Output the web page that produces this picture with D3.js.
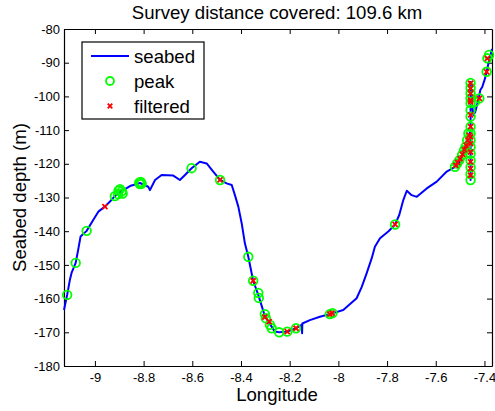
<!DOCTYPE html>
<html>
<head>
<meta charset="utf-8">
<script src="https://cdnjs.cloudflare.com/ajax/libs/d3/7.8.5/d3.min.js"></script>
<style>
  body { margin: 0; background: #fff; }
  text { font-family: Arial, "Liberation Sans", sans-serif; fill: #000; }
</style>
</head>
<body>
<div id="chart"></div>
<script>
var titleText = "Survey distance covered: 109.6 km";

// seabed trace (longitude, depth)
var lineLon = [-9.127, -9.114, -9.103, -9.096, -9.079, -9.069, -9.059, -9.034, -9.007, -8.986,
  -8.959, -8.938, -8.918, -8.897, -8.856, -8.815, -8.781, -8.774, -8.753, -8.726,
  -8.678, -8.651, -8.630, -8.603, -8.569, -8.541, -8.514, -8.486, -8.459, -8.438,
  -8.425, -8.411, -8.397, -8.384, -8.370, -8.350, -8.329, -8.302, -8.284, -8.261,
  -8.243, -8.210, -8.174, -8.151, -8.149, -8.148, -8.117, -8.076, -8.035, -7.980,
  -7.925, -7.904, -7.884, -7.863, -7.850, -7.829, -7.795, -7.767, -7.750, -7.733,
  -7.719, -7.699, -7.678, -7.637, -7.596, -7.555, -7.521, -7.500, -7.487, -7.471,
  -7.457, -7.457, -7.457, -7.455, -7.446, -7.438, -7.425, -7.417, -7.409, -7.397,
  -7.385, -7.369];
var lineDepth = [-163.4, -158.9, -154.5, -152.4, -149.4, -145.6, -141.6, -139.9, -136.7, -134.2,
  -132.7, -131.2, -129.6, -128.4, -126.6, -125.7, -126.8, -127.8, -124.8, -123.3,
  -123.5, -124.8, -123.3, -121.3, -119.4, -119.9, -122.3, -124.8, -125.8, -126.3,
  -129.3, -132.7, -137.7, -143.6, -147.6, -154.7, -158.9, -165.2, -167.2, -169.8,
  -170.0, -169.8, -168.8, -167.8, -170.3, -167.4, -166.4, -165.4, -164.6, -163.4,
  -159.9, -156.5, -152.5, -148.0, -144.6, -142.1, -140.1, -138.0, -135.2, -130.7,
  -128.0, -129.3, -129.8, -127.3, -125.3, -122.3, -120.9, -119.4, -116.9, -113.5,
  -110.0, -124.8, -95.7, -99.6, -105.5, -104.6, -101.1, -98.1, -97.2, -94.5,
  -90.7, -85.9];

// detected peaks
var peakLon = [-9.114, -9.079, -9.034, -8.918, -8.903, -8.897, -8.890, -8.886, -8.905,
  -8.818, -8.812, -8.808, -8.815, -8.603, -8.486, -8.370, -8.350, -8.329, -8.327,
  -8.302, -8.298, -8.281, -8.274, -8.243, -8.210, -8.174, -8.035, -8.024, -7.767,
  -7.521, -7.512, -7.503, -7.492, -7.484, -7.477, -7.471, -7.466,
  -7.457, -7.457, -7.457, -7.457, -7.457, -7.457, -7.457, -7.457, -7.457, -7.457,
  -7.457, -7.457, -7.457, -7.457, -7.457, -7.457,
  -7.439, -7.421, -7.391, -7.388, -7.381];
var peakDepth = [-158.9, -149.4, -139.9, -129.6, -128.0, -127.5, -128.2, -128.8, -129.0,
  -125.6, -125.4, -125.9, -126.0, -121.3, -124.8, -147.6, -154.7, -158.3, -159.8,
  -164.6, -165.8, -167.8, -168.8, -170.0, -169.8, -168.8, -164.6, -164.3, -138.0,
  -120.9, -119.9, -118.9, -117.4, -116.0, -114.9, -113.0, -111.0,
  -96.0, -97.5, -99.1, -100.6, -102.0, -106.0, -109.0, -111.0, -113.0, -115.0,
  -117.0, -119.0, -121.0, -123.0, -124.8, -104.0,
  -101.6, -100.6, -92.7, -88.7, -87.7];

// filtered points
var filtLon = [-8.959, -8.486, -8.350, -8.302, -8.284, -8.210, -8.174, -8.035, -8.026,
  -7.767, -7.518, -7.510, -7.500, -7.490, -7.482, -7.475, -7.468, -7.463,
  -7.457, -7.457, -7.457, -7.457, -7.457, -7.457, -7.457, -7.457, -7.457,
  -7.457, -7.457, -7.457, -7.457, -7.421, -7.391, -7.388];
var filtDepth = [-132.7, -124.8, -154.7, -165.5, -166.8, -169.8, -168.8, -164.6, -164.3,
  -138.0, -120.5, -119.6, -118.5, -117.2, -115.8, -114.5, -113.0, -111.5,
  -96.1, -97.6, -99.1, -101.1, -101.6, -105.5, -109.0, -112.0, -114.0, -116.5,
  -119.4, -121.4, -123.4, -100.6, -92.7, -88.7];

var xTicks = [-9, -8.8, -8.6, -8.4, -8.2, -8, -7.8, -7.6, -7.4];
var yTicks = [-180, -170, -160, -150, -140, -130, -120, -110, -100, -90, -80];

var width = 495, height = 411;
var mLeft = 64, mRight = 492, mTop = 29, mBottom = 366;

var svg = d3.select("#chart").append("svg")
    .attr("width", width)
    .attr("height", height);

svg.append("rect").attr("width", width).attr("height", height).attr("fill", "#fff");

var x = d3.scaleLinear().domain([-9.127, -7.369]).range([mLeft, mRight]);
var y = d3.scaleLinear().domain([-180, -80]).range([mBottom, mTop]);

var fmt = function(d) { return String(+d.toFixed(1)); };

// axes, ticks pointing inward like matlab
svg.append("g")
    .attr("transform", "translate(0," + mBottom + ")")
    .call(d3.axisBottom(x).tickValues(xTicks).tickSizeInner(-5).tickSizeOuter(0).tickPadding(7).tickFormat(fmt))
    .call(styleAxis);
svg.append("g")
    .attr("transform", "translate(0," + mTop + ")")
    .call(d3.axisTop(x).tickValues(xTicks).tickSizeInner(-5).tickSizeOuter(0).tickFormat(""))
    .call(styleAxis);
svg.append("g")
    .attr("transform", "translate(" + mLeft + ",0)")
    .call(d3.axisLeft(y).tickValues(yTicks).tickSizeInner(-5).tickSizeOuter(0).tickPadding(4).tickFormat(fmt))
    .call(styleAxis);
svg.append("g")
    .attr("transform", "translate(" + mRight + ",0)")
    .call(d3.axisRight(y).tickValues(yTicks).tickSizeInner(-5).tickSizeOuter(0).tickFormat(""))
    .call(styleAxis);

function styleAxis(g) {
  g.select(".domain").attr("stroke", "#000").attr("stroke-width", 1.2);
  g.selectAll(".tick line").attr("stroke", "#000");
  g.selectAll(".tick text").attr("font-size", 13).attr("font-family", "Arial, 'Liberation Sans', sans-serif").attr("fill", "#000");
}

var plot = svg.append("g");

var line = d3.line()
    .x(function(d, i) { return x(lineLon[i]); })
    .y(function(d, i) { return y(lineDepth[i]); });

plot.append("path")
    .attr("d", line(lineLon))
    .attr("fill", "none")
    .attr("stroke", "#0000ff")
    .attr("stroke-width", 2)
    .attr("stroke-linejoin", "round");

plot.selectAll(".peak")
    .data(peakLon)
  .enter().append("circle")
    .attr("class", "peak")
    .attr("cx", function(d) { return x(d); })
    .attr("cy", function(d, i) { return y(peakDepth[i]); })
    .attr("r", 4.3)
    .attr("fill", "none")
    .attr("stroke", "#00ff00")
    .attr("stroke-width", 1.8);

var cross = function(cx, cy, s) {
  return "M" + (cx - s) + "," + (cy - s) + "L" + (cx + s) + "," + (cy + s) +
    "M" + (cx - s) + "," + (cy + s) + "L" + (cx + s) + "," + (cy - s);
};

plot.selectAll(".filt")
    .data(filtLon)
  .enter().append("path")
    .attr("class", "filt")
    .attr("d", function(d, i) { return cross(x(d), y(filtDepth[i]), 2.5); })
    .attr("stroke", "#ff0000")
    .attr("stroke-width", 1.8);

// titles
svg.append("text")
    .attr("x", (mLeft + mRight) / 2 - 1)
    .attr("y", 18.5)
    .attr("text-anchor", "middle")
    .attr("font-size", 18.6)
    .text(titleText);

svg.append("text")
    .attr("x", (mLeft + mRight) / 2 - 1)
    .attr("y", 401)
    .attr("text-anchor", "middle")
    .attr("font-size", 18.6)
    .text("Longitude");

svg.append("text")
    .attr("transform", "translate(26," + (mTop + mBottom) / 2 + ") rotate(-90)")
    .attr("text-anchor", "middle")
    .attr("font-size", 18.6)
    .text("Seabed depth (m)");

// legend
var legend = svg.append("g").attr("transform", "translate(82,42)");
legend.append("rect")
    .attr("width", 122).attr("height", 77)
    .attr("fill", "#fff").attr("stroke", "#000").attr("stroke-width", 1.2);
legend.append("line")
    .attr("x1", 9).attr("x2", 47).attr("y1", 14).attr("y2", 14)
    .attr("stroke", "#0000ff").attr("stroke-width", 2);
legend.append("circle")
    .attr("cx", 28).attr("cy", 39).attr("r", 4)
    .attr("fill", "none").attr("stroke", "#00ff00").attr("stroke-width", 1.8);
legend.append("path")
    .attr("d", cross(28, 64, 2.3))
    .attr("stroke", "#ff0000").attr("stroke-width", 1.8);
legend.selectAll(".ltext")
    .data(["seabed", "peak", "filtered"])
  .enter().append("text")
    .attr("class", "ltext")
    .attr("x", 52)
    .attr("y", function(d, i) { return 21 + i * 25; })
    .attr("font-size", 18.6)
    .text(function(d) { return d; });
</script>
</body>
</html>
